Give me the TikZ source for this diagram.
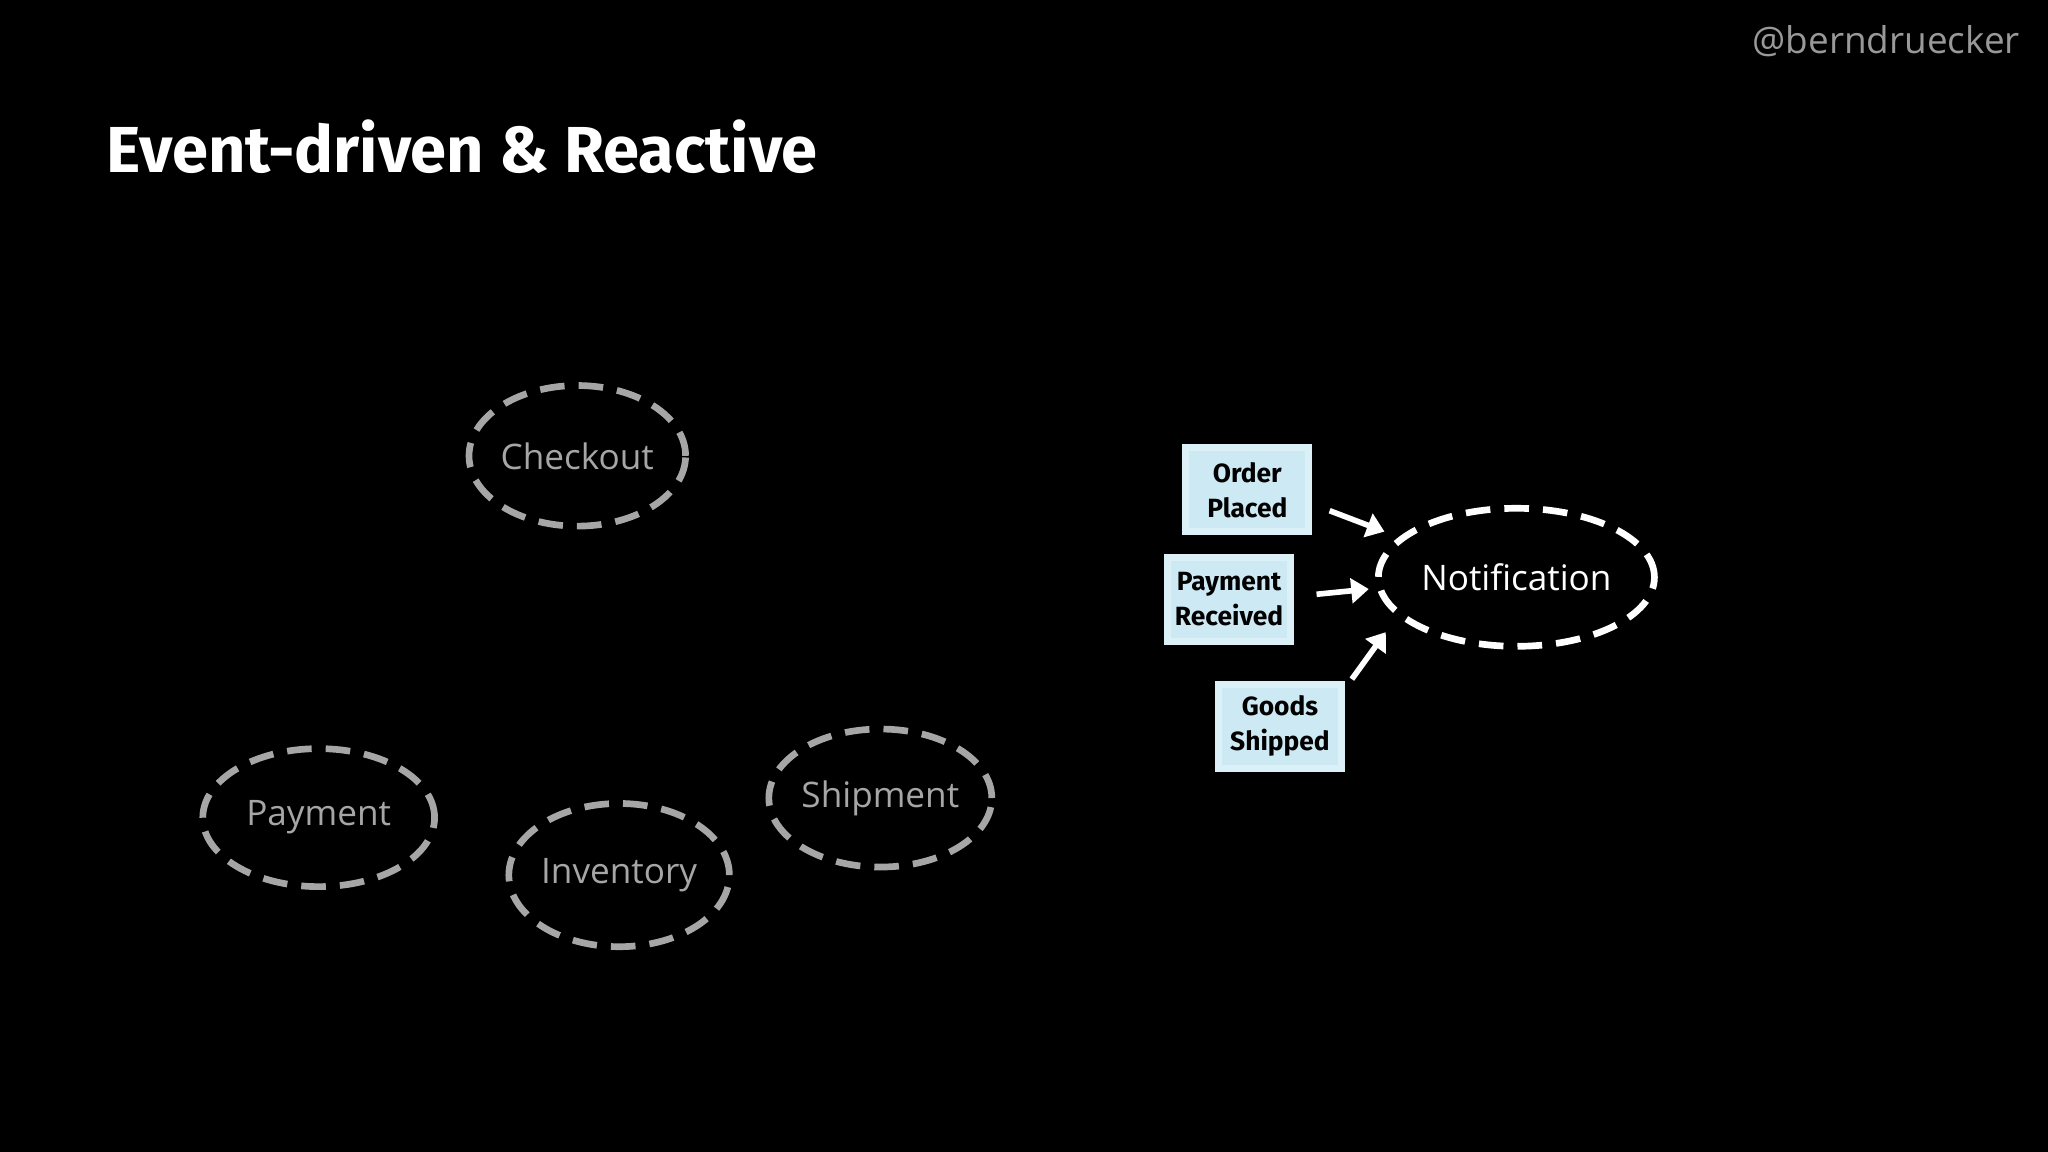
\documentclass[tikz,border=0pt]{standalone}
\usepackage{fontspec}
\setmainfont{Open Sans}
\newfontfamily\hand{Fira Sans}
\usetikzlibrary{arrows.meta,shapes.geometric}
\definecolor{notefill}{HTML}{CDE9F4}
\begin{document}
\begin{tikzpicture}[x=0.013061cm,y=-0.013061cm,
 svc/.style={draw=#1,line width=1.9pt,dash pattern=on 7pt off 4pt,ellipse,inner sep=0pt,font=\fontsize{10}{12}\selectfont,text=#1},
 note/.style={fill=notefill,draw=notefill!70!white,line width=2pt,minimum width=35pt,minimum height=24pt,inner sep=1pt,align=center,font=\hand\fontsize{7.5}{10}\selectfont\bfseries,text=black},
 arr/.style={draw=white,line width=1.6pt,-{Triangle[length=5pt,width=7pt]}}]
\fill[black] (0,0) rectangle (1568,882);
\useasboundingbox (0,0) rectangle (1568,882);
\node[anchor=north east,text=white!60!black,font=\fontsize{10.5}{12}\selectfont] (h) at (1556,10) {@berndruecker};
\node[anchor=west,text=white,font=\hand\fontsize{18.5}{22}\selectfont\bfseries] (t) at (72,112) {Event-driven \& Reactive};
\tikzset{ell/.style args={#1/#2}{minimum width=#1*2*0.3705pt,minimum height=#2*2*0.3705pt}}
\node[svc=white!65!black,ell=83/54] (c) at (442,349) {Checkout};
\node[svc=white!65!black,ell=89/53] (p) at (244,626) {Payment};
\node[svc=white!65!black,ell=84/55] (i) at (474,670) {Inventory};
\node[svc=white!65!black,ell=85/53] (s) at (674,611) {Shipment};
\node[svc=white,ell=106/53] (n) at (1161,442) {Notification};
\node[note] (o) at (955,375) {Order\\Placed};
\node[note] (r) at (941,459) {Payment\\Received};
\node[note] (g) at (980,556) {Goods\\Shipped};
\coordinate (o1) at (1018,391); \coordinate (o2) at (1060,407);
\coordinate (r1) at (1008,455); \coordinate (r2) at (1048,451);
\coordinate (g1) at (1035,520); \coordinate (g2) at (1061,484);
\draw[arr] (o1) -- (o2);
\draw[arr] (r1) -- (r2);
\draw[arr] (g1) -- (g2);
\end{tikzpicture}
\end{document}
